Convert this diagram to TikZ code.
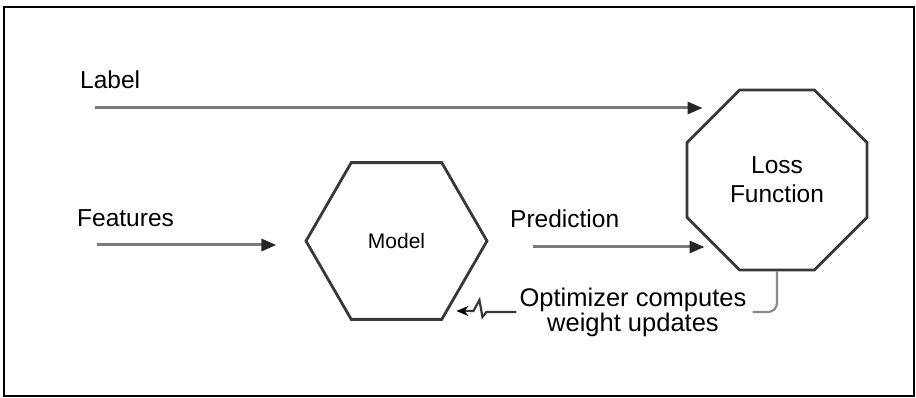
\documentclass[tikz,border=0pt]{standalone}
\usepackage{fontspec}
\setmainfont{Liberation Sans}
\usetikzlibrary{shapes.geometric,arrows.meta,positioning}
\definecolor{edgegray}{HTML}{383838}
\definecolor{flowgray}{HTML}{7a7a7a}
\definecolor{hintgray}{HTML}{8a8a8a}

\begin{document}
\begin{tikzpicture}[x=1pt,y=-1pt,
  shapeline/.style={draw=edgegray,line width=2.8pt,regular polygon,inner sep=0pt},
  flow/.style={draw=flowgray,line width=3pt,-{Triangle[length=15pt,width=12pt,color=black!85]}},
  hint/.style={draw=hintgray,line width=2.2pt},
  txt/.style={font=\fontsize{24.5}{29}\selectfont,inner sep=0pt}]
\useasboundingbox (0,0) rectangle (916,398);
\draw[line width=1.8pt] (4,7) rectangle (914,396);

\node[shapeline,regular polygon sides=6,minimum size=181pt,
  font=\fontsize{21}{25}\selectfont] (model) at (396.5,241) {Model};
\node[shapeline,regular polygon sides=8,minimum size=195pt,align=center,
  font=\fontsize{24.5}{29}\selectfont] (loss) at (777,180) {Loss\\Function};

\node[txt,anchor=base west] (labeltext) at (80,89) {Label};
\node[txt,anchor=base west] (feattext) at (77,227) {Features};
\node[txt,anchor=base west] (predtext) at (510,228) {Prediction};
\node[txt,align=center,font=\fontsize{25.5}{25}\selectfont] (opt) at (633,312)
  {Optimizer computes\\weight updates};

\coordinate (labelfrom) at (95,108);
\coordinate (featfrom) at (97,245);
\coordinate (predfrom) at (533,247);
\draw[flow,shorten >=-17pt] (labelfrom) -- (labelfrom -| loss.west);
\draw[flow,shorten >=28pt] (featfrom) -- (featfrom -| model.west);
\draw[flow,shorten >=-19pt] (predfrom) -- (predfrom -| loss.west);

\draw[hint,rounded corners=9pt] (loss.south) |- ([xshift=6pt]opt.east);
\draw[hint,draw=edgegray,-{Stealth[length=12pt,width=10pt,color=black]}]
  ([xshift=-3pt]opt.west) -- ++(-30,0) -- ++(-4,5) -- ++(-3,-17) -- ++(-6,11) -- ++(-17,0);
\end{tikzpicture}
\end{document}
